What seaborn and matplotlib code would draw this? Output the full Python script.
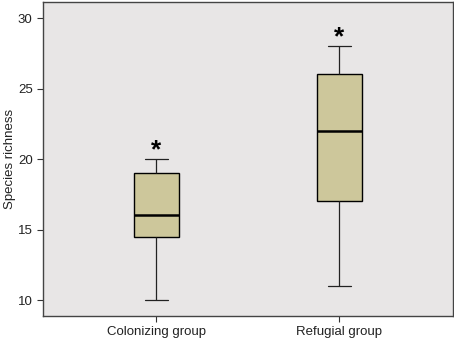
import numpy as np
import pandas as pd
import seaborn as sns
import matplotlib
matplotlib.use("Agg")
import matplotlib.pyplot as plt

# five-number summaries (min, q1, median, q3, max)
groups = ["Colonizing group", "Refugial group"]
colonizing = [10, 14.5, 16, 19, 20]
refugial = [11, 17, 22, 26, 28]
stars = ["*", "*"]

df = pd.DataFrame({
    "group": [groups[0]] * len(colonizing) + [groups[1]] * len(refugial),
    "richness": colonizing + refugial,
})

sns.set_style("white")
plt.rcParams["font.family"] = ["Liberation Sans", "DejaVu Sans"]

fig = plt.figure(figsize=(4.54, 3.4), dpi=100)
ax = fig.add_axes([0.0947, 0.0706, 0.903, 0.923])
ax.set_facecolor("#e8e6e6")

sns.boxplot(data=df, x="group", y="richness", ax=ax, whis=(0, 100),
            width=0.25, color="#cdc79b", saturation=1,
            linewidth=1, linecolor="black",
            medianprops=dict(color="black", linewidth=1.8),
            whiskerprops=dict(color="#222222", linewidth=0.9),
            capprops=dict(color="#222222", linewidth=0.9),
            capwidths=0.125)

# asterisks above the upper whiskers
for i, vals in enumerate([colonizing, refugial]):
    ax.text(i, max(vals) + 0.65, stars[i], ha="center", va="center",
            fontsize=19, fontweight="bold", color="black")

ax.set_xlim(-0.62, 1.62)
ax.set_ylim(8.87, 31.13)
ax.set_yticks([10, 15, 20, 25, 30])
ax.set_xlabel("")
ax.set_ylabel("Species richness", fontsize=9.5, color="#222222", va="center")
ax.yaxis.set_label_coords(-0.08, 0.5)
ax.tick_params(axis="both", length=4, width=0.8, colors="#333333",
               labelsize=9.5, labelcolor="#222222", direction="out",
               left=True, bottom=True)
for s in ax.spines.values():
    s.set_color("#444444")
    s.set_linewidth(1)

fig.savefig("out.png", dpi=100)
